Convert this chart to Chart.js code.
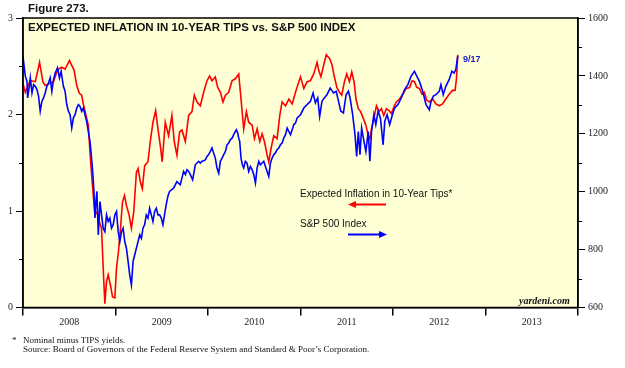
<!DOCTYPE html>
<html>
<head>
<meta charset="utf-8">
<script src="https://cdn.jsdelivr.net/npm/chart.js@4.4.0/dist/chart.umd.min.js"></script>
<style>
body { margin: 0; background: #fff; }
#wrap { position: relative; width: 625px; height: 368px; }
#c { position: absolute; left: 0; top: 0; }
.t { position: absolute; white-space: nowrap; line-height: 1; }
.hd { font: bold 11.5px 'Liberation Sans', Arial, sans-serif; color: #111; }
.lg { font: 10px 'Liberation Sans', Arial, sans-serif; color: #111; }
.fn { font: 9px 'Liberation Serif', 'Times New Roman', serif; color: #111; }
</style>
</head>
<body>
<div id="wrap">
<canvas id="c" width="625" height="368"></canvas>
<div class="t hd" style="left:28px;top:2px">Figure 273.</div>
<div class="t hd" style="left:28px;top:21px">EXPECTED INFLATION IN 10-YEAR TIPS vs. S&amp;P 500 INDEX</div>
<div class="t lg" style="left:300px;top:188px">Expected Inflation in 10-Year Tips*</div>
<div class="t lg" style="left:300px;top:218px">S&amp;P 500 Index</div>
<div class="t" style="left:463px;top:54px;font:bold 9px 'Liberation Sans',Arial,sans-serif;color:#2020d0">9/17</div>
<div class="t" style="left:519px;top:295px;font:bold italic 10px 'Liberation Serif',serif;color:#111">yardeni.com</div>
<div class="t fn" style="left:12px;top:335px">*</div>
<div class="t fn" style="left:23px;top:335px">Nominal minus TIPS yields.</div>
<div class="t fn" style="left:23px;top:344px">Source: Board of Governors of the Federal Reserve System and Standard &amp; Poor’s Corporation.</div>
</div>
<script>
// expected inflation (nominal minus TIPS yields)
var inflT = [2008.000,2008.025,2008.079,2008.133,2008.179,2008.215,2008.240,2008.287,2008.330,2008.358,
  2008.384,2008.419,2008.455,2008.502,2008.527,2008.552,2008.581,2008.609,2008.634,2008.652,
  2008.681,2008.706,2008.724,2008.742,2008.760,2008.778,2008.803,2008.824,2008.849,2008.867,
  2008.885,2008.903,2008.921,2008.946,2008.968,2008.993,2009.011,2009.032,2009.054,2009.075,
  2009.097,2009.118,2009.147,2009.172,2009.197,2009.226,2009.244,2009.269,2009.290,2009.315,
  2009.351,2009.376,2009.405,2009.434,2009.459,2009.484,2009.505,2009.538,2009.574,2009.610,
  2009.635,2009.664,2009.693,2009.718,2009.755,2009.791,2009.827,2009.852,2009.881,2009.917,
  2009.953,2009.989,2010.018,2010.043,2010.079,2010.105,2010.134,2010.162,2010.188,2010.224,
  2010.260,2010.296,2010.332,2010.357,2010.386,2010.415,2010.440,2010.477,2010.502,2010.531,
  2010.560,2010.585,2010.610,2010.639,2010.657,2010.682,2010.711,2010.747,2010.776,2010.801,
  2010.838,2010.874,2010.910,2010.946,2010.982,2011.000,2011.036,2011.071,2011.107,2011.143,
  2011.179,2011.196,2011.221,2011.250,2011.279,2011.314,2011.339,2011.364,2011.393,2011.421,
  2011.446,2011.475,2011.500,2011.529,2011.554,2011.579,2011.600,2011.625,2011.650,2011.679,
  2011.707,2011.732,2011.750,2011.768,2011.793,2011.821,2011.850,2011.875,2011.900,2011.929,
  2011.957,2011.982,2012.011,2012.036,2012.071,2012.107,2012.143,2012.179,2012.207,2012.232,
  2012.257,2012.286,2012.314,2012.339,2012.364,2012.393,2012.429,2012.464,2012.500,2012.536,
  2012.571,2012.607,2012.643,2012.671,2012.686,2012.700];
var inflV = [2.32,2.23,2.35,2.34,2.54,2.34,2.30,2.32,2.34,2.42,
  2.47,2.49,2.47,2.56,2.51,2.46,2.30,2.22,2.20,2.11,
  1.99,1.89,1.61,1.37,1.16,0.96,0.99,0.89,0.82,0.41,
  0.04,0.27,0.34,0.23,0.11,0.10,0.41,0.58,0.82,1.09,
  1.16,1.06,0.96,0.82,0.99,1.40,1.44,1.30,1.23,1.47,
  1.51,1.72,1.92,2.04,1.85,1.68,1.51,1.92,1.78,1.99,
  1.72,1.58,1.82,1.84,1.72,1.99,2.03,2.20,2.13,2.09,
  2.23,2.35,2.40,2.35,2.39,2.28,2.23,2.13,2.20,2.23,
  2.35,2.37,2.42,2.16,1.85,2.03,1.92,1.89,1.75,1.85,
  1.72,1.80,1.72,1.58,1.51,1.65,1.78,1.75,1.99,2.13,
  2.09,2.16,2.11,2.23,2.34,2.39,2.27,2.34,2.35,2.42,
  2.54,2.46,2.39,2.51,2.62,2.58,2.52,2.40,2.28,2.23,
  2.20,2.34,2.42,2.34,2.44,2.34,2.16,2.06,2.03,1.96,
  1.89,1.78,1.75,1.85,1.96,2.09,2.03,2.06,1.99,2.06,
  2.04,2.01,2.08,2.13,2.16,2.21,2.27,2.28,2.35,2.34,
  2.28,2.27,2.21,2.23,2.15,2.13,2.16,2.11,2.09,2.11,
  2.16,2.21,2.25,2.25,2.37,2.62];

// S&P 500 index
var spxT = [2008.000,2008.014,2008.025,2008.043,2008.050,2008.068,2008.079,2008.097,2008.115,2008.133,
  2008.151,2008.168,2008.186,2008.204,2008.222,2008.240,2008.258,2008.276,2008.294,2008.312,
  2008.330,2008.348,2008.373,2008.394,2008.412,2008.437,2008.455,2008.473,2008.491,2008.509,
  2008.527,2008.545,2008.563,2008.581,2008.599,2008.616,2008.634,2008.652,2008.670,2008.688,
  2008.706,2008.724,2008.738,2008.753,2008.767,2008.778,2008.789,2008.799,2008.814,2008.832,
  2008.849,2008.867,2008.885,2008.903,2008.921,2008.939,2008.957,2008.975,2008.993,2009.011,
  2009.029,2009.047,2009.065,2009.082,2009.100,2009.118,2009.136,2009.154,2009.172,2009.190,
  2009.208,2009.226,2009.244,2009.262,2009.280,2009.297,2009.315,2009.333,2009.351,2009.369,
  2009.387,2009.405,2009.423,2009.441,2009.459,2009.477,2009.495,2009.513,2009.530,2009.548,
  2009.566,2009.584,2009.628,2009.664,2009.700,2009.718,2009.736,2009.755,2009.773,2009.791,
  2009.809,2009.834,2009.863,2009.881,2009.899,2009.917,2009.935,2009.953,2009.971,2009.989,
  2010.007,2010.025,2010.043,2010.061,2010.079,2010.097,2010.116,2010.134,2010.152,2010.170,
  2010.188,2010.206,2010.224,2010.242,2010.260,2010.278,2010.296,2010.307,2010.321,2010.332,
  2010.343,2010.357,2010.372,2010.386,2010.404,2010.422,2010.440,2010.458,2010.477,2010.495,
  2010.513,2010.531,2010.549,2010.567,2010.585,2010.603,2010.621,2010.639,2010.657,2010.675,
  2010.693,2010.711,2010.729,2010.747,2010.765,2010.783,2010.801,2010.819,2010.838,2010.856,
  2010.874,2010.892,2010.910,2010.928,2010.946,2010.964,2010.982,2011.000,2011.036,2011.071,
  2011.107,2011.136,2011.161,2011.186,2011.207,2011.232,2011.257,2011.286,2011.321,2011.357,
  2011.386,2011.411,2011.436,2011.464,2011.493,2011.518,2011.536,2011.564,2011.589,2011.607,
  2011.625,2011.643,2011.661,2011.686,2011.707,2011.732,2011.750,2011.768,2011.793,2011.814,
  2011.839,2011.864,2011.893,2011.911,2011.936,2011.964,2011.993,2012.018,2012.054,2012.089,
  2012.125,2012.161,2012.196,2012.232,2012.257,2012.286,2012.321,2012.357,2012.393,2012.411,
  2012.436,2012.464,2012.500,2012.518,2012.543,2012.571,2012.607,2012.636,2012.661,2012.679,
  2012.700];
var spxV = [1468,1428,1399,1381,1324,1364,1393,1341,1370,1364,
  1353,1330,1278,1312,1324,1341,1364,1376,1393,1347,
  1387,1410,1428,1393,1416,1364,1347,1301,1278,1266,
  1220,1255,1266,1289,1301,1295,1278,1289,1266,1243,
  1208,1174,1128,1070,1001,909,966,1001,851,966,
  920,874,862,920,897,909,874,886,920,932,
  862,828,862,874,828,805,759,712,678,759,
  782,805,828,851,839,874,886,920,909,943,
  920,897,932,943,920,920,909,886,920,955,
  984,1001,1012,1035,1024,1047,1070,1059,1076,1070,
  1059,1041,1093,1099,1105,1099,1105,1107,1110,1122,
  1128,1139,1151,1134,1116,1082,1064,1105,1116,1128,
  1139,1162,1168,1180,1185,1197,1208,1214,1203,1185,
  1174,1116,1093,1082,1105,1099,1070,1087,1076,1059,
  1030,1082,1105,1093,1099,1105,1087,1070,1053,1099,
  1116,1128,1134,1145,1151,1162,1168,1185,1197,1220,
  1208,1197,1214,1232,1237,1255,1260,1266,1289,1301,
  1312,1341,1307,1324,1260,1312,1324,1335,1358,1341,
  1347,1312,1278,1272,1335,1347,1324,1266,1197,1122,
  1208,1128,1220,1174,1139,1208,1105,1208,1266,1232,
  1278,1255,1162,1243,1266,1232,1266,1289,1301,1324,
  1353,1370,1399,1416,1399,1381,1347,1301,1283,1312,
  1330,1335,1347,1370,1335,1364,1387,1416,1410,1422,
  1468];

var yearLabels = ['2008', '2009', '2010', '2011', '2012', '2013'];
var leftTicks = [0, 1, 2, 3];
var rightTicks = [600, 800, 1000, 1200, 1400, 1600];

function toPoints(t, v) {
  return t.map(function (x, i) { return { x: x, y: v[i] }; });
}

var frame = {
  id: 'frame',
  beforeDraw: function (chart) {
    var a = chart.chartArea, ctx = chart.ctx;
    ctx.save();
    ctx.fillStyle = '#ffffd6';
    ctx.fillRect(a.left, a.top, a.right - a.left, a.bottom - a.top);
    ctx.restore();
  },
  afterDraw: function (chart) {
    var a = chart.chartArea, ctx = chart.ctx;
    var y = chart.scales.y, y1 = chart.scales.y1;
    ctx.save();
    ctx.strokeStyle = '#000';
    ctx.lineWidth = 1.5;
    ctx.strokeRect(a.left, a.top, a.right - a.left, a.bottom - a.top);
    // minor ticks
    ctx.lineWidth = 1;
    [0.5, 1.5, 2.5].forEach(function (v) {
      var p = Math.round(y.getPixelForValue(v)) + 0.5;
      ctx.beginPath(); ctx.moveTo(a.left - 4, p); ctx.lineTo(a.left, p); ctx.stroke();
    });
    [700, 900, 1100, 1300, 1500].forEach(function (v) {
      var p = Math.round(y1.getPixelForValue(v)) + 0.5;
      ctx.beginPath(); ctx.moveTo(a.right, p); ctx.lineTo(a.right + 4, p); ctx.stroke();
    });
    // legend arrows
    function arrow(x0, x1, yy, col) {
      var dir = x1 > x0 ? 1 : -1;
      ctx.strokeStyle = col; ctx.fillStyle = col; ctx.lineWidth = 2;
      ctx.beginPath(); ctx.moveTo(x0, yy); ctx.lineTo(x1 - dir * 6, yy); ctx.stroke();
      ctx.beginPath(); ctx.moveTo(x1, yy); ctx.lineTo(x1 - dir * 8, yy - 3.5); ctx.lineTo(x1 - dir * 8, yy + 3.5); ctx.closePath(); ctx.fill();
    }
    arrow(386, 348, 204.5, '#ff0000');
    arrow(348, 387, 234.5, '#0000ff');
    ctx.restore();
  }
};

var tickFont = { family: "'Liberation Serif', 'Times New Roman', serif", size: 10 };

new Chart(document.getElementById('c'), {
  type: 'line',
  data: {
    datasets: [{
      label: 'S&P 500 Index',
      data: toPoints(spxT, spxV),
      yAxisID: 'y1',
      borderColor: '#0000ff',
      borderWidth: 1.6,
      pointRadius: 0,
      tension: 0
    }, {
      label: 'Expected Inflation in 10-Year Tips*',
      data: toPoints(inflT, inflV),
      yAxisID: 'y',
      borderColor: '#ff0000',
      borderWidth: 1.6,
      pointRadius: 0,
      tension: 0
    }]
  },
  options: {
    responsive: false,
    animation: false,
    layout: { padding: { top: 18, left: 0, right: 0, bottom: 0 } },
    plugins: { legend: { display: false }, tooltip: { enabled: false } },
    scales: {
      x: {
        type: 'linear', min: 2008, max: 2014,
        afterFit: function (s) { s.height = 60.5; },
        ticks: {
          stepSize: 0.5, autoSkip: false, maxRotation: 0, padding: 1,
          font: tickFont, color: '#222',
          callback: function (v) {
            return v % 1 === 0.5 ? yearLabels[Math.floor(v) - 2008] : '';
          }
        },
        grid: {
          drawOnChartArea: false, tickLength: 8, lineWidth: 1.5,
          tickColor: function (c) { return c.tick && c.tick.value % 1 === 0 ? '#000' : 'rgba(0,0,0,0)'; }
        },
        border: { color: '#000', width: 1.5 }
      },
      y: {
        position: 'left', min: 0, max: 3,
        afterFit: function (s) { s.width = 23; },
        ticks: {
          stepSize: 0.5, padding: 3, font: tickFont, color: '#222',
          callback: function (v) { return leftTicks.indexOf(v) >= 0 ? String(v) : ''; }
        },
        grid: {
          drawOnChartArea: false, tickLength: 7,
          tickColor: function (c) { return c.tick && c.tick.value % 1 === 0 ? '#000' : 'rgba(0,0,0,0)'; }
        },
        border: { color: '#000', width: 1.5 }
      },
      y1: {
        position: 'right', min: 600, max: 1600,
        afterFit: function (s) { s.width = 47; },
        ticks: {
          stepSize: 100, padding: 3, font: tickFont, color: '#222',
          callback: function (v) { return rightTicks.indexOf(v) >= 0 ? String(v) : ''; }
        },
        grid: {
          drawOnChartArea: false, tickLength: 7,
          tickColor: function (c) { return c.tick && c.tick.value % 200 === 0 ? '#000' : 'rgba(0,0,0,0)'; }
        },
        border: { color: '#000', width: 1.5 }
      }
    }
  },
  plugins: [frame]
});
</script>
</body>
</html>
